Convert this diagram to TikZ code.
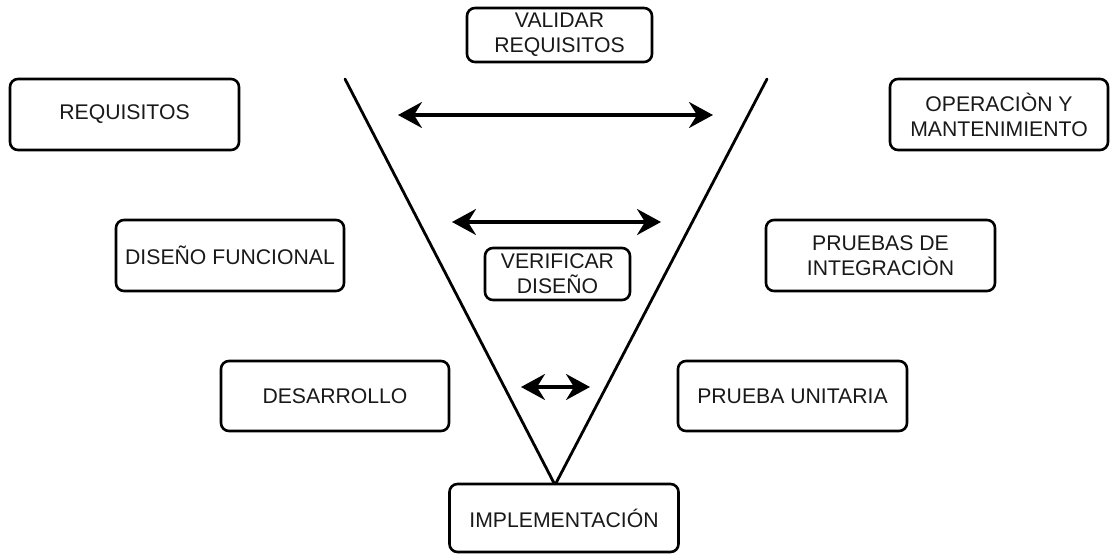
\documentclass[tikz,border=0pt]{standalone}
\usepackage{fontspec}
\setmainfont{Liberation Sans}
\usetikzlibrary{arrows.meta}
\tikzset{
  box/.style={draw=black, line width=2.6pt, rounded corners=8pt, fill=white,
    inner sep=0pt, align=center, text=black!90,
    font=\fontsize{21.2}{25}\selectfont},
  vline/.style={draw=black, line width=2.8pt, line cap=round},
  link/.style={draw=black, line width=3.2pt,
    arrows={Stealth[length=24pt,width=26pt,inset=8pt]-Stealth[length=24pt,width=26pt,inset=8pt]}}
}
\begin{document}
\begin{tikzpicture}[x=1pt,y=-1pt]
\useasboundingbox (0,0) rectangle (1111,554);

% V shape
\coordinate (vl) at (345,79);
\coordinate (vr) at (767,79);
\coordinate (apex) at (555,485);
\path[vline] (vl) -- (apex) -- (vr);

% boxes
\node[box, minimum width=185pt, minimum height=54pt] (valreq) at (559.5,35) {VALIDAR\\REQUISITOS};
\node[box, minimum width=229pt, minimum height=71pt] (req) at (124.5,114.5) {REQUISITOS};
\node[box, minimum width=218pt, minimum height=71pt] (opm) at (999,114.5) {OPERACIÒN Y\\MANTENIMIENTO};
\node[box, minimum width=228pt, minimum height=71pt] (disfun) at (230,255.5) {DISEÑO FUNCIONAL};
\node[box, minimum width=229pt, minimum height=71pt] (pruint) at (880.5,255.5) {PRUEBAS DE\\INTEGRACIÒN};
\node[box, minimum width=145pt, minimum height=52pt] (verdis) at (557.5,274) {VERIFICAR\\DISEÑO};
\node[box, minimum width=228pt, minimum height=70pt] (des) at (335,396) {DESARROLLO};
\node[box, minimum width=229pt, minimum height=70pt] (pu) at (792.5,396) {PRUEBA UNITARIA};
\node[box, minimum width=229pt, minimum height=68pt] (impl) at (564,518) {IMPLEMENTACIÓN};

% double-headed arrows across the V
\coordinate (a1l) at (398,115);
\coordinate (a1r) at (713,115);
\coordinate (a2l) at (452,222);
\coordinate (a2r) at (661,222);
\coordinate (a3l) at (521,387);
\coordinate (a3r) at (590,387);
\path[link] (a1l) -- (a1r);
\path[link] (a2l) -- (a2r);
\path[link] (a3l) -- (a3r);
\end{tikzpicture}
\end{document}
